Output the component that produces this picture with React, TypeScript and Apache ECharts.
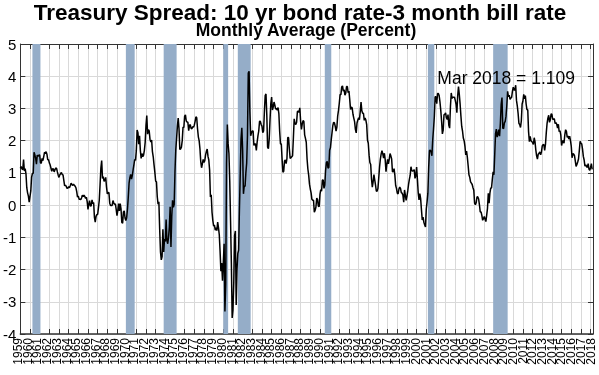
import React, { useEffect, useRef } from 'react';
import * as echarts from 'echarts';

const startYear = 1959;
const titleText = 'Treasury Spread: 10 yr bond rate-3 month bill rate';
const subtitleText = 'Monthly Average (Percent)';
const annotationText = 'Mar 2018 = 1.109';

// Year tick labels along the bottom axis
const yearLabels = [
  '1959', '1960', '1961', '1962', '1963', '1964', '1965', '1966', '1967', '1968',
  '1969', '1970', '1971', '1972', '1973', '1974', '1975', '1976', '1977', '1978',
  '1979', '1980', '1981', '1982', '1983', '1984', '1985', '1986', '1987', '1988',
  '1989', '1990', '1991', '1992', '1993', '1994', '1995', '1996', '1997', '1998',
  '1999', '2000', '2001', '2002', '2003', '2004', '2005', '2006', '2007', '2008',
  '2009', '2010', '2011', '2012', '2013', '2014', '2015', '2016', '2017', '2018',
];

// Monthly values, January 1959 onward
const spread1959to1969 = [
  1.14, 1.2, 1.13, 1.1, 1.41, 1.06, 1.13, 0.97, 0.54, 0.38, 0.28, 0.09,
  0.27, 0.44, 0.87, 0.98, 0.99, 1.64, 1.56, 1.46, 1.27, 1.55, 1.51, 1.55,
  1.56, 1.31, 1.3, 1.45, 1.38, 1.5, 1.64, 1.6, 1.66, 1.58, 1.41, 1.41,
  1.31, 1.25, 1.15, 1.05, 1.13, 1.12, 1.03, 1.1, 1.15, 1.14, 1.03, 0.93,
  0.86, 0.94, 0.98, 1.01, 0.95, 0.94, 0.77, 0.6, 0.62, 0.58, 0.52, 0.53,
  0.57, 0.54, 0.6, 0.68, 0.64, 0.61, 0.65, 0.61, 0.59, 0.54, 0.42, 0.25,
  0.28, 0.18, 0.18, 0.17, 0.22, 0.31, 0.26, 0.31, 0.27, 0.21, 0.25, 0.11,
  -0.13, 0.03, 0.14, -0.03, -0.02, 0.16, 0.05, 0.08, -0.38, -0.53, -0.35, -0.29,
  -0.29, -0.08, 0.15, 0.64, 1.15, 1.38, 0.83, 0.88, 0.74, 0.77, 0.86, 0.56,
  0.35, 0.4, 0.38, 0.06, -0.01, -0.01, -0.01, 0.14, 0.07, 0.02, 0.04, -0.13,
  -0.33, -0.17, 0.05, -0.18, 0.05, -0.12, -0.54, -0.56, -0.21, -0.18, -0.4, -0.48,
];
const spread1970to1979 = [
  -0.39, -0.13, 0.24, 0.68, 0.85, 0.95, 0.81, 0.92, 1.09, 1.25, 1.42, 1.39,
  1.69, 2.33, 2.25, 1.89, 2.15, 1.7, 1.45, 1.6, 1.5, 1.55, 1.7, 1.95,
  2.48, 2.78, 2.2, 2.34, 2.3, 2.04, 1.96, 2.02, 1.66, 1.5, 1.25, 1.02,
  0.75, 0.72, 0.26, 0.03, 0.1, -0.75, -1.45, -1.7, -1.6, -0.75, -1.45, -1.05,
  -1.13, -0.45, -1.1, -1.2, -1.0, -0.68, -0.05, -1.3, -0.35, 0.15, -0.07, 0.02,
  1.05, 1.72, 2.07, 2.45, 2.7, 2.37, 1.73, 1.74, 1.8, 2.0, 2.42, 2.41,
  2.76, 2.8, 2.61, 2.58, 2.57, 2.31, 2.47, 2.5, 2.38, 2.37, 2.43, 2.42,
  2.48, 2.6, 2.74, 2.71, 2.37, 2.12, 2.0, 1.75, 1.35, 1.16, 1.28, 1.42,
  1.32, 1.38, 1.56, 1.67, 1.74, 1.51, 1.4, 1.09, 0.25, 0.32, -0.22, -0.48,
  -0.65, -0.62, -0.78, -0.7, -0.79, -0.53, -0.7, -0.92, -1.43, -2.05, -1.8, -2.35,
];
const spread1980to1989 = [
  -1.8, -1.2, -3.3, -2.45, 1.3, 2.5, 1.9, 1.6, 0.75, -0.5, -1.8, -3.5,
  -3.25, -2.4, -0.95, -0.8, -3.1, -2.0, -1.5, -1.4, -0.15, 0.95, 2.05, 2.4,
  1.7, 0.35, 0.6, 0.58, 1.0, 1.3, 2.15, 4.1, 4.15, 2.9, 2.15, 2.25,
  2.3, 2.3, 1.85, 1.9, 1.9, 1.7, 1.95, 2.15, 2.3, 2.6, 2.6, 2.5,
  2.45, 2.25, 2.3, 2.9, 3.4, 3.45, 2.8, 1.8, 1.75, 2.05, 2.65, 3.15,
  3.35, 2.95, 3.05, 3.2, 3.1, 2.98, 3.0, 2.95, 3.03, 2.83, 2.28, 1.9,
  1.9, 1.42, 1.02, 1.05, 1.37, 1.4, 1.29, 1.44, 2.1, 2.1, 1.74, 1.45,
  1.47, 1.5, 1.53, 2.08, 2.68, 2.53, 2.5, 2.57, 2.9, 2.92, 2.88, 3.02,
  2.6, 2.35, 2.52, 2.62, 2.6, 2.18, 2.07, 1.95, 1.43, 1.12, 0.93, 0.65,
  0.5, 0.38, 0.18, 0.15, 0.15, -0.22, -0.16, -0.06, 0.22, 0.17, -0.03, -0.05,
];
const spread1990to1999 = [
  0.33, 0.48, 0.43, 0.78, 0.78, 0.52, 0.62, 1.08, 1.32, 1.36, 1.15, 1.17,
  1.7, 1.78, 2.03, 2.25, 2.47, 2.57, 2.55, 2.44, 2.3, 2.42, 2.76, 2.94,
  3.16, 3.43, 3.43, 3.67, 3.7, 3.54, 3.58, 3.41, 3.47, 3.68, 3.68, 3.49,
  3.54, 3.27, 2.97, 3.04, 3.02, 2.82, 2.7, 2.59, 2.35, 2.24, 2.55, 2.64,
  2.71, 2.65, 2.9, 3.2, 2.93, 2.85, 2.85, 2.63, 2.7, 2.64, 2.5, 2.02,
  1.92, 1.55, 1.32, 1.26, 0.81, 0.56, 0.72, 0.95, 0.78, 0.62, 0.43, 0.44,
  0.52, 0.85, 1.18, 1.43, 1.59, 1.69, 1.59, 1.46, 1.61, 1.41, 1.04, 1.26,
  1.42, 1.28, 1.42, 1.6, 1.53, 1.43, 1.04, 1.03, 1.13, 0.93, 0.61, 0.52,
  0.37, 0.35, 0.49, 0.56, 0.52, 0.39, 0.37, 0.31, 0.09, 0.47, 0.31, 0.15,
  0.27, 0.44, 0.64, 0.8, 0.92, 1.19, 1.07, 1.06, 1.07, 1.1, 0.83, 0.91,
];
const spread2000to2009 = [
  1.18, 0.8, 0.38, 0.16, 0.36, 0.2, -0.14, -0.46, -0.37, -0.53, -0.61, -0.68,
  -0.12, 0.1, 0.37, 1.18, 1.69, 1.71, 1.65, 1.53, 2.03, 2.36, 2.74, 3.36,
  3.36, 3.15, 3.46, 3.46, 3.4, 3.2, 2.94, 2.61, 2.21, 2.33, 2.8, 2.82,
  2.86, 2.71, 2.66, 2.81, 2.48, 2.39, 3.06, 3.48, 3.31, 3.35, 3.35, 3.35,
  3.25, 3.13, 2.87, 3.39, 3.68, 3.44, 3.14, 2.77, 2.44, 2.3, 2.08, 2.0,
  1.83, 1.56, 1.68, 1.48, 1.22, 0.94, 0.86, 0.72, 0.68, 0.64, 0.54, 0.46,
  0.06, 0.01, 0.08, 0.26, 0.25, 0.19, 0.01, -0.21, -0.21, -0.32, -0.47, -0.42,
  -0.35, -0.44, -0.51, -0.31, -0.1, 0.37, 0.06, 0.37, 0.53, 0.53, 0.8, 1.03,
  0.94, 1.58, 2.22, 2.36, 2.11, 2.2, 2.34, 2.14, 2.54, 3.13, 3.34, 2.39,
  2.37, 2.55, 2.6, 2.76, 3.1, 3.53, 3.37, 3.41, 3.28, 3.32, 3.35, 3.54,
];
const spread2010to2018 = [
  3.66, 3.57, 3.57, 3.72, 3.25, 3.08, 2.85, 2.54, 2.5, 2.41, 2.61, 3.14,
  3.23, 3.44, 3.3, 3.4, 3.13, 2.96, 2.96, 2.28, 1.97, 2.13, 2.0, 1.97,
  1.94, 1.88, 2.09, 1.97, 1.71, 1.53, 1.43, 1.58, 1.61, 1.65, 1.56, 1.65,
  1.84, 1.88, 1.87, 1.7, 1.89, 2.25, 2.54, 2.7, 2.79, 2.57, 2.65, 2.83,
  2.82, 2.66, 2.67, 2.68, 2.53, 2.56, 2.51, 2.39, 2.51, 2.28, 2.31, 2.18,
  1.85, 1.96, 2.01, 1.92, 2.18, 2.34, 2.29, 2.1, 2.15, 2.05, 2.14, 2.01,
  1.83, 1.47, 1.6, 1.58, 1.54, 1.37, 1.2, 1.26, 1.34, 1.43, 1.69, 1.98,
  1.92, 1.9, 1.74, 1.51, 1.4, 1.21, 1.25, 1.2, 1.17, 1.29, 1.12, 1.08,
  1.17, 1.29, 1.109,
];

// Recession periods (decimal years)
const recessionStarts = [1960.25, 1969.92, 1973.83, 1980.0, 1981.5, 1990.5, 2001.17, 2007.92];
const recessionEnds = [1961.08, 1970.83, 1975.17, 1980.5, 1982.83, 1991.17, 2001.83, 2009.42];

const FONT = '"Liberation Sans", Arial, Helvetica, sans-serif';

export default function App() {
  const ref = useRef<HTMLDivElement>(null);
  useEffect(() => {
    if (!ref.current) return;
    const chart = echarts.init(ref.current, null, { renderer: 'svg' });
    const values = [
      ...spread1959to1969,
      ...spread1970to1979,
      ...spread1980to1989,
      ...spread1990to1999,
      ...spread2000to2009,
      ...spread2010to2018,
    ];
    const data = values.map((v, i) => [startYear + i / 12, v]);
    const axisColor = '#333';
    const gridColor = '#d9d9d9';
    const xMin = 1959;
    const xMax = 2018.25;
    const plotLeft = 18;
    const plotRight = 6;
    const plotWidth = 599 - plotLeft - plotRight;
    // the label grid ends where the last year label (2018) sits on the main axis
    const lastYear = Number(yearLabels[yearLabels.length - 1]);
    const labelRight = plotRight + (plotWidth * (xMax - lastYear)) / (xMax - xMin);
    const option: any = {
      animation: false,
      textStyle: { fontFamily: FONT },
      grid: [
        { left: plotLeft, right: plotRight, top: 44, bottom: 41, containLabel: false },
        { left: plotLeft, right: labelRight, top: 44, bottom: 41, containLabel: false },
      ],
      xAxis: [
        {
          type: 'value', gridIndex: 0, min: xMin, max: xMax, interval: 1, position: 'bottom',
          axisLine: { show: true, onZero: false, lineStyle: { color: axisColor, width: 1.5 } },
          axisTick: { show: true, inside: true, length: 5, lineStyle: { color: axisColor } },
          axisLabel: { show: false },
          splitLine: { show: true, lineStyle: { color: gridColor, width: 1 } },
        },
        {
          type: 'value', gridIndex: 0, min: xMin, max: xMax, interval: 1, position: 'top',
          axisLine: { show: true, onZero: false, lineStyle: { color: axisColor, width: 1 } },
          axisTick: { show: true, inside: true, length: 5, lineStyle: { color: axisColor } },
          axisLabel: { show: false },
          splitLine: { show: false },
        },
        {
          type: 'category', gridIndex: 1, data: yearLabels, boundaryGap: false, position: 'bottom',
          axisLine: { show: false, onZero: false },
          axisTick: { show: false },
          axisLabel: { interval: 0, rotate: 90, fontSize: 12, color: '#000', fontFamily: FONT, margin: 4 },
          splitLine: { show: false },
        },
      ],
      yAxis: [
        {
          type: 'value', gridIndex: 0, min: -4, max: 5, interval: 1, position: 'left',
          axisLine: { show: true, onZero: false, lineStyle: { color: axisColor, width: 1 } },
          axisTick: { show: true, inside: true, length: 5, lineStyle: { color: axisColor } },
          axisLabel: { fontSize: 15, color: '#000', fontFamily: FONT, margin: 4 },
          splitLine: { show: true, lineStyle: { color: gridColor, width: 1 } },
        },
        {
          type: 'value', gridIndex: 0, min: -4, max: 5, interval: 1, position: 'right',
          axisLine: { show: true, onZero: false, lineStyle: { color: axisColor, width: 1 } },
          axisTick: { show: true, inside: true, length: 5, lineStyle: { color: axisColor } },
          axisLabel: { show: false },
          splitLine: { show: false },
        },
        {
          type: 'value', gridIndex: 1, min: -4, max: 5, show: false,
        },
      ],
      series: [
        {
          type: 'line', xAxisIndex: 0, yAxisIndex: 0, data: [], z: 1, silent: true,
          markArea: {
            silent: true,
            itemStyle: { color: '#95adc8', opacity: 1 },
            data: recessionStarts.map((s, i) => [{ xAxis: s }, { xAxis: recessionEnds[i] }]),
          },
        },
        {
          type: 'line', xAxisIndex: 0, yAxisIndex: 0, data, z: 3,
          showSymbol: false, symbol: 'none',
          lineStyle: { color: '#000', width: 1.5 },
        },
      ],
      graphic: [
        {
          type: 'text', x: 300, y: 12,
          style: { text: titleText, font: `bold 22.5px ${FONT}`, lineHeight: 18, fill: '#000', textAlign: 'center', textVerticalAlign: 'middle' },
        },
        {
          type: 'text', x: 306, y: 29.5,
          style: { text: subtitleText, font: `bold 17.5px ${FONT}`, lineHeight: 14, fill: '#000', textAlign: 'center', textVerticalAlign: 'middle' },
        },
        {
          type: 'text', x: 575, y: 77.5,
          style: { text: annotationText, font: `17.5px ${FONT}`, fill: '#000', textAlign: 'right', textVerticalAlign: 'middle' },
          z: 10,
        },
      ],
    };
    chart.setOption(option);
    return () => chart.dispose();
  }, []);
  return <div ref={ref} style={{ position: 'fixed', left: 0, top: 0, width: 599, height: 375 }} />;
}
